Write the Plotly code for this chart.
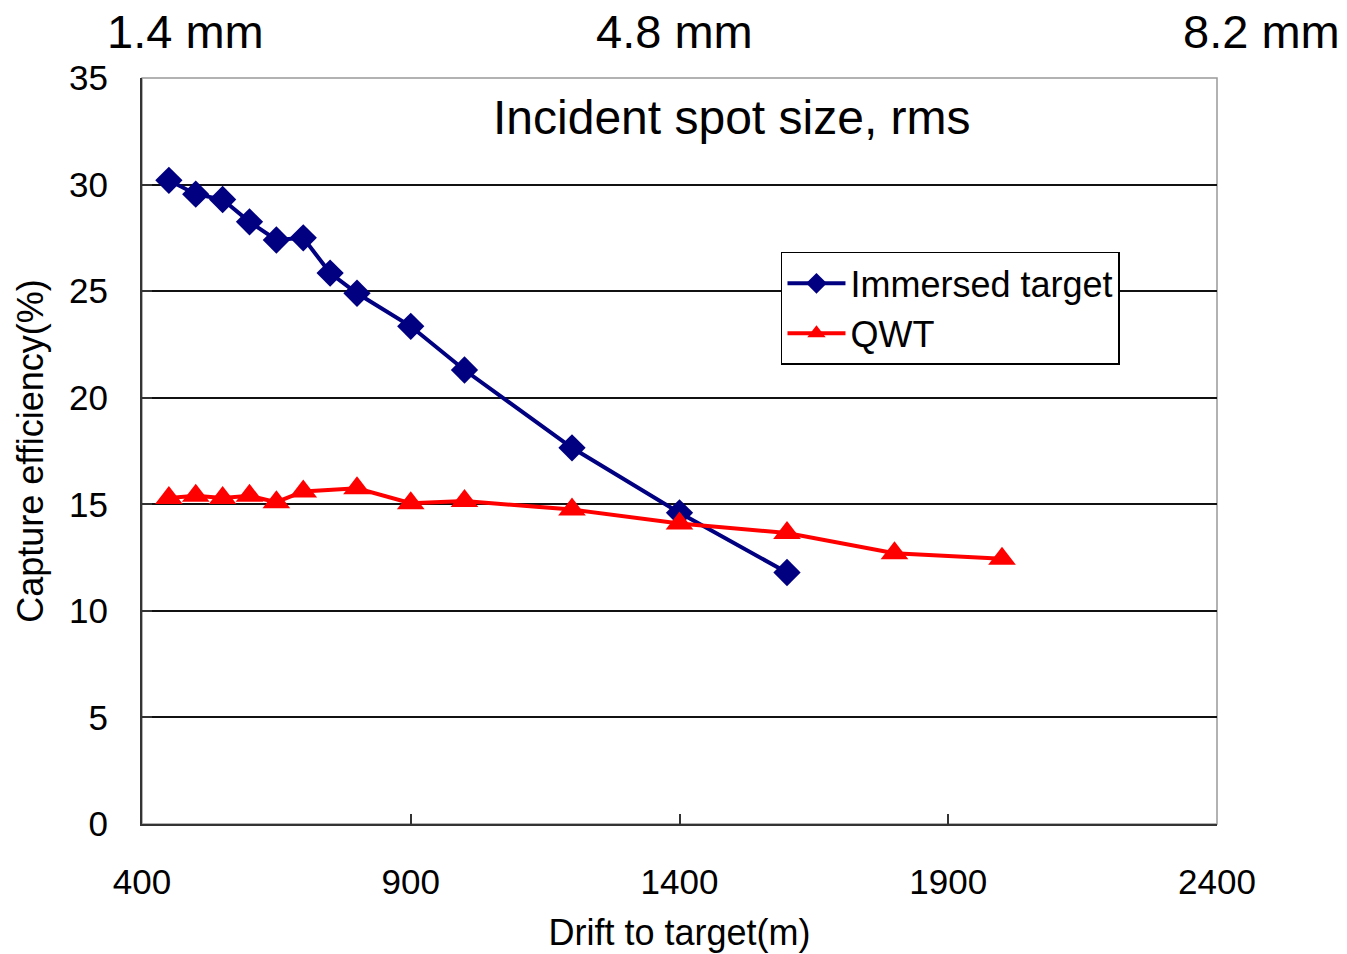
import plotly.graph_objects as go

# Data
drift_immersed = [450, 500, 550, 600, 650, 700, 750, 800, 900, 1000, 1200, 1400, 1600]
eff_immersed = [30.2, 29.55, 29.3, 28.25, 27.4, 27.5, 25.85, 24.9, 23.35, 21.3, 17.65, 14.6, 11.8]

drift_qwt = [450, 500, 550, 600, 650, 700, 800, 900, 1000, 1200, 1400, 1600, 1800, 2000]
eff_qwt = [15.3, 15.4, 15.3, 15.4, 15.1, 15.6, 15.75, 15.05, 15.15, 14.75, 14.1, 13.65, 12.7, 12.45]

x_ticks = [400, 900, 1400, 1900, 2400]
y_ticks = [0, 5, 10, 15, 20, 25, 30, 35]
spot_labels = ["1.4 mm", "4.8 mm", "8.2 mm"]
spot_label_x = [0.04, 0.4958, 1.041]

FONT = "Liberation Sans, Arial, sans-serif"

fig = go.Figure()
fig.add_trace(go.Scatter(
    x=drift_immersed, y=eff_immersed, mode="lines+markers", name="Immersed target",
    line=dict(color="#000080", width=4),
    marker=dict(symbol="diamond", size=21, color="#000080"),
))
fig.add_trace(go.Scatter(
    x=drift_qwt, y=eff_qwt, mode="lines+markers", name="QWT",
    line=dict(color="#FF0000", width=4),
    marker=dict(symbol="triangle-up", size=24, color="#FF0000"),
))

# frame (gray top/right)
fig.add_shape(type="rect", xref="paper", yref="paper", x0=0, y0=0, x1=1, y1=1,
              line=dict(color="#999999", width=1.5), layer="below")

for lab, xp in zip(spot_labels, spot_label_x):
    fig.add_annotation(text=lab, x=xp, y=1.0617, xref="paper", yref="paper",
                       showarrow=False, font=dict(size=47, color="black", family=FONT),
                       xanchor="center", yanchor="middle")
fig.add_annotation(text="Incident spot size, rms", x=0.549, y=0.9477, xref="paper", yref="paper",
                   showarrow=False, font=dict(size=48, color="black", family=FONT),
                   xanchor="center", yanchor="middle")

fig.update_layout(
    width=1347, height=954,
    margin=dict(l=142, r=130, t=78, b=130),
    paper_bgcolor="white", plot_bgcolor="white",
    font=dict(family=FONT, color="black"),
    showlegend=True,
    hovermode=False,
    legend=dict(x=0.5944, y=0.7668, xanchor="left", yanchor="top",
                bgcolor="white", bordercolor="black", borderwidth=1.5,
                font=dict(size=36, color="black", family=FONT),
                tracegroupgap=0, itemwidth=58),
    xaxis=dict(range=[400, 2400], tickvals=x_ticks, ticks="inside", ticklen=10,
               tickcolor="#333333", tickwidth=1.5, automargin=False,
               showline=True, linecolor="#333333", linewidth=2, showgrid=False, zeroline=False,
               tickfont=dict(size=35, family=FONT), ticklabelstandoff=26,
               title=dict(text="Drift to target(m)", font=dict(size=36, family=FONT), standoff=20)),
    yaxis=dict(range=[0, 35], tickvals=y_ticks, ticks="inside", ticklen=10,
               tickcolor="#333333", tickwidth=1.5, automargin=False,
               showline=True, linecolor="#333333", linewidth=2,
               showgrid=True, gridcolor="#111111", gridwidth=1.5, zeroline=False,
               tickfont=dict(size=35, family=FONT), ticklabelstandoff=25,
               title=dict(text="Capture efficiency(%)", font=dict(size=36, family=FONT), standoff=14)),
)

fig.write_html("out.html", config={"displayModeBar": False},
               post_script="document.body.style.margin='0';")
